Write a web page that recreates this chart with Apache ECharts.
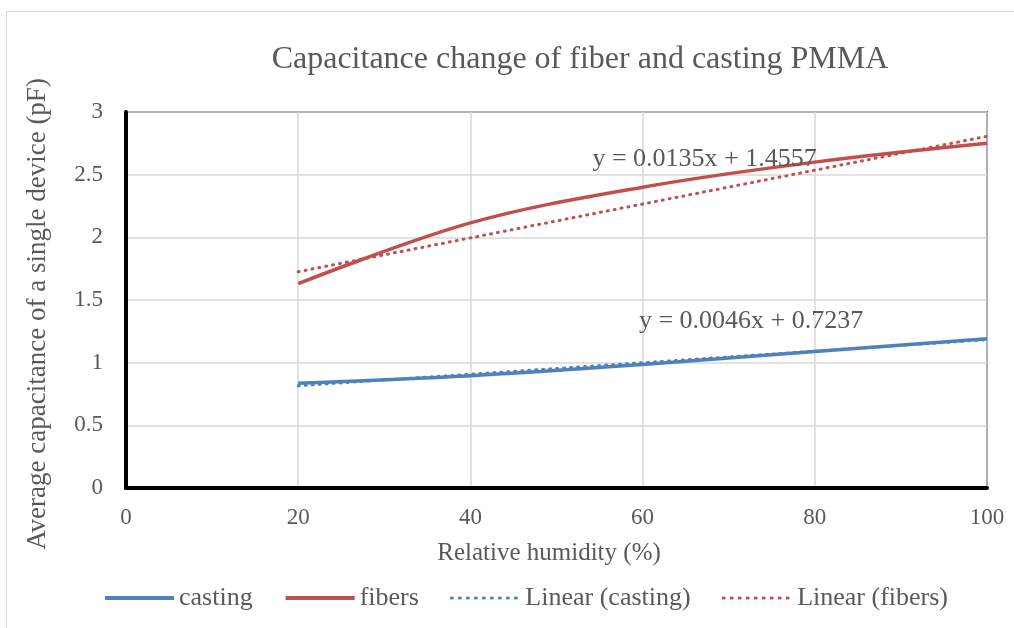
<!DOCTYPE html>
<html>
<head>
<meta charset="utf-8">
<script src="https://cdn.jsdelivr.net/npm/echarts@6/dist/echarts.min.js"></script>
<style>
  html, body { margin: 0; padding: 0; background: #fff; }
  #chart { width: 1014px; height: 628px; }
</style>
</head>
<body>
<div id="chart"></div>
<script>
// Relative humidity (%) at each measurement
const humidity = [20, 40, 60, 80, 100];
// Average capacitance of a single device (pF)
const casting = [0.835, 0.895, 0.985, 1.09, 1.19];
const fibers = [1.63, 2.115, 2.40, 2.60, 2.75];
// Linear fits: [slope, intercept]
const fitCasting = [0.0046, 0.7237];
const fitFibers = [0.0135, 1.4557];
const yTicks = ['0', '0.5', '1', '1.5', '2', '2.5', '3'];

const FONT = '"Liberation Serif", "Times New Roman", serif';
const TEXT = '#595959';
const BLUE = '#4f81bd';
const RED = '#c0504d';

function pairs(xs, ys) { return xs.map((x, i) => [x, ys[i]]); }
function fitLine(fit) {
  const xs = [humidity[0], humidity[humidity.length - 1]];
  return xs.map(x => [x, fit[0] * x + fit[1]]);
}
function eqText(fit) {
  return 'y = ' + fit[0].toFixed(4) + 'x + ' + fit[1].toFixed(4);
}

const solidLegend = { width: 4, type: 'solid' };
const dottedLegend = { width: 3, type: [1, 7], cap: 'round' };

const chart = echarts.init(document.getElementById('chart'), null, { renderer: 'canvas' });

chart.setOption({
  animation: false,
  backgroundColor: '#fff',
  textStyle: { fontFamily: FONT, color: TEXT },
  title: {
    text: 'Capacitance change of fiber and casting PMMA',
    left: 575, top: 39, textAlign: 'center',
    textStyle: { fontFamily: FONT, fontSize: 32, fontWeight: 'normal', color: TEXT }
  },
  graphic: [
    {
      type: 'rect', left: 6, top: 11, z: -10,
      shape: { width: 1030, height: 640 },
      style: { fill: '#fff', stroke: '#d9d9d9', lineWidth: 1 }
    },
    {
      // vertical axis title
      type: 'text', x: 38, y: 314, rotation: Math.PI / 2,
      style: {
        text: 'Average capacitance of a single device (pF)',
        font: '27px ' + FONT, fill: TEXT, align: 'center', verticalAlign: 'middle'
      }
    },
    {
      // horizontal axis title
      type: 'text', x: 549, y: 553,
      style: {
        text: 'Relative humidity (%)',
        font: '25px ' + FONT, fill: TEXT, align: 'center', verticalAlign: 'middle'
      }
    }
  ],
  grid: {
    left: 126, right: 27, top: 112, bottom: 140,
    show: true, borderColor: '#000', borderWidth: 1.5, backgroundColor: 'transparent'
  },
  legend: {
    left: 98, top: 580,
    itemWidth: 69, itemHeight: 12, itemGap: 31,
    itemStyle: { opacity: 0 },
    textStyle: { fontFamily: FONT, fontSize: 26, color: TEXT },
    data: [
      { name: 'casting', lineStyle: solidLegend },
      { name: 'fibers', lineStyle: solidLegend },
      { name: 'Linear (casting)', lineStyle: dottedLegend },
      { name: 'Linear (fibers)', lineStyle: dottedLegend }
    ]
  },
  xAxis: {
    type: 'value', min: 0, max: 100, interval: 20,
    axisLine: { show: true, onZero: false, lineStyle: { color: '#000', width: 4 } },
    axisTick: { show: false },
    axisLabel: { fontFamily: FONT, fontSize: 23, color: TEXT, margin: 18 },
    splitLine: { show: true, lineStyle: { color: '#d9d9d9', width: 1.5 } }
  },
  yAxis: {
    type: 'value', min: 0, max: 3, interval: 0.5,
    axisLine: { show: true, onZero: false, lineStyle: { color: '#000', width: 4 } },
    axisTick: { show: false },
    axisLabel: {
      fontFamily: FONT, fontSize: 23, color: TEXT, margin: 23,
      formatter: (v) => yTicks[Math.round(v / 0.5)]
    },
    splitLine: { show: true, lineStyle: { color: '#d9d9d9', width: 1.5 } }
  },
  series: [
    {
      name: 'casting', type: 'line', smooth: 0.35, symbol: 'none',
      data: pairs(humidity, casting),
      lineStyle: { color: BLUE, width: 3.5 }, itemStyle: { color: BLUE }, z: 3
    },
    {
      name: 'fibers', type: 'line', smooth: 0.35, symbol: 'none',
      data: pairs(humidity, fibers),
      lineStyle: { color: RED, width: 3.5 }, itemStyle: { color: RED }, z: 3
    },
    {
      name: 'Linear (casting)', type: 'line', symbol: 'none',
      data: fitLine(fitCasting),
      lineStyle: { color: BLUE, width: 3, type: [1, 6], cap: 'round' },
      itemStyle: { color: BLUE }, z: 4,
      markPoint: {
        symbol: 'rect', symbolSize: 1, itemStyle: { color: 'transparent' },
        label: { show: true, position: 'inside', fontFamily: FONT, fontSize: 26, color: TEXT,
                 formatter: () => eqText(fitCasting) },
        data: [{ coord: [72.6, 1.33] }]
      }
    },
    {
      name: 'Linear (fibers)', type: 'line', symbol: 'none',
      data: fitLine(fitFibers),
      lineStyle: { color: RED, width: 3, type: [1, 6], cap: 'round' },
      itemStyle: { color: RED }, z: 4,
      markPoint: {
        symbol: 'rect', symbolSize: 1, itemStyle: { color: 'transparent' },
        label: { show: true, position: 'inside', fontFamily: FONT, fontSize: 26, color: TEXT,
                 formatter: () => eqText(fitFibers) },
        data: [{ coord: [67.2, 2.62] }]
      }
    }
  ]
});
</script>
</body>
</html>
